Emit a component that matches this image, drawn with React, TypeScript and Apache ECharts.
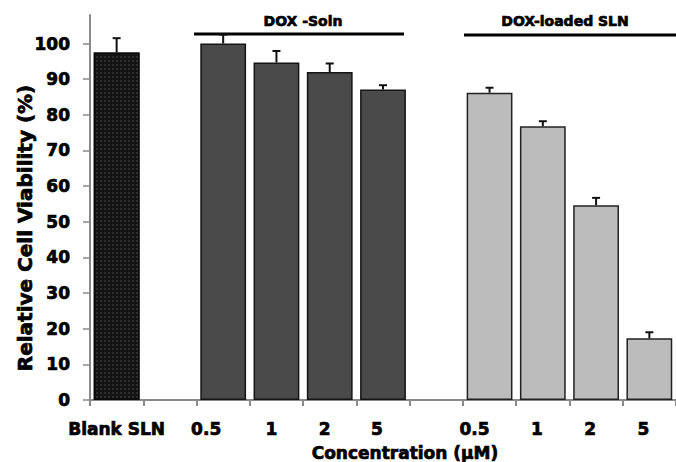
import React, { useEffect, useRef } from 'react';
import * as echarts from 'echarts';

// ---- data ----
const categories = ['Blank SLN', 'gap-1', 'Soln 0.5', 'Soln 1', 'Soln 2', 'Soln 5', 'gap-2', 'SLN 0.5', 'SLN 1', 'SLN 2', 'SLN 5'];
const tickLabels = ['Blank SLN', '', '0.5', '1', '2', '5', '', '0.5', '1', '2', '5'];
const viability: (number | null)[] = [97.5, null, 100, 94.7, 92.0, 87.1, null, 86.2, 76.8, 54.6, 17.3];
const errors: (number | null)[] = [4.0, null, 2.5, 3.2, 2.4, 1.2, null, 1.4, 1.4, 2.1, 1.7];
const groupOf: (string | null)[] = ['blank', null, 'soln', 'soln', 'soln', 'soln', null, 'sln', 'sln', 'sln', 'sln'];
const groupTitles = ['DOX -Soln', 'DOX-loaded SLN'];
const yTicks = [0, 10, 20, 30, 40, 50, 60, 70, 80, 90, 100];
const yMax = 108;
const yTitle = 'Relative Cell Viability (%)';
const xTitle = 'Concentration (\u00B5M)';

// ---- styles ----
const FONT = '"DejaVu Sans", "Liberation Sans", Arial, sans-serif';
const labelShift = [0, 0, -17, -5, -5, -6, 0, -15, -6, -6, -6];
const heavy = { textBorderColor: '#000', textBorderWidth: 0.7 };
const groupStyle: Record<string, any> = {
  blank: {
    color: '#141414',
    borderColor: '#0a0a0a',
    borderWidth: 1.5,
    decal: {
      symbol: 'rect',
      symbolSize: 0.6,
      color: 'rgba(110,110,110,0.9)',
      dashArrayX: [2, 2],
      dashArrayY: [2, 2],
      rotation: 0,
    },
  },
  soln: { color: '#4a4a4a', borderColor: '#151515', borderWidth: 1.5 },
  sln: { color: '#bcbcbc', borderColor: '#222', borderWidth: 1.5 },
};

export default function App() {
  const ref = useRef<HTMLDivElement>(null);

  useEffect(() => {
    if (!ref.current) return;
    const chart = echarts.init(ref.current, undefined, { renderer: 'svg' });

    const barData = viability.map((v, i) => {
      const g = groupOf[i];
      if (v === null || g === null) return null;
      return { value: v, itemStyle: groupStyle[g] };
    });

    const errData = viability
      .map((v, i) => (v === null || errors[i] === null ? null : [i, v, errors[i]]))
      .filter((d) => d !== null);

    const xData = categories.map((c, i) => ({
      value: c,
      textStyle: { padding: [0, labelShift[i] < 0 ? -2 * labelShift[i] : 0, 0, 0] },
    }));

    const textStyle = (size: number) => ({
      fill: '#000',
      font: `bold ${size}px ${FONT}`,
      align: 'center',
      verticalAlign: 'middle',
      stroke: '#000',
      lineWidth: 0.7,
    });

    chart.setOption({
      animation: false,
      grid: { left: 90, right: -4, top: 15, bottom: 62, containLabel: false },
      xAxis: {
        type: 'category',
        data: xData,
        axisLine: { lineStyle: { color: '#8a8a8a', width: 2 } },
        axisTick: { show: true, alignWithLabel: false, length: 6, lineStyle: { color: '#8a8a8a', width: 2 } },
        axisLabel: {
          interval: 0,
          margin: 20,
          color: '#000',
          fontFamily: FONT,
          fontWeight: 'bold',
          fontSize: 17,
          ...heavy,
          formatter: (_v: string, idx: number) => tickLabels[idx],
        },
      },
      yAxis: {
        type: 'value',
        min: 0,
        max: yMax,
        splitLine: { show: false },
        axisLine: { show: true, lineStyle: { color: '#8a8a8a', width: 2 } },
        axisTick: { show: true, length: 7, customValues: yTicks, lineStyle: { color: '#8a8a8a', width: 1.5 } },
        axisLabel: {
          margin: 20,
          color: '#000',
          fontFamily: FONT,
          fontWeight: 'bold',
          fontSize: 17,
          ...heavy,
          customValues: yTicks,
        },
      },
      series: [
        {
          type: 'bar',
          data: barData,
          barCategoryGap: '14%',
          z: 2,
        },
        {
          type: 'custom',
          data: errData,
          z: 3,
          encode: { x: 0, y: 1 },
          renderItem: (_p: any, api: any) => {
            const i = api.value(0);
            const v = api.value(1);
            const e = api.value(2);
            const a = api.coord([i, v]);
            const b = api.coord([i, v + e]);
            const st = { stroke: '#111', lineWidth: 2 };
            return {
              type: 'group',
              children: [
                { type: 'line', shape: { x1: a[0], y1: a[1], x2: b[0], y2: b[1] }, style: st },
                { type: 'line', shape: { x1: b[0] - 4, y1: b[1], x2: b[0] + 4, y2: b[1] }, style: st },
              ],
            };
          },
        },
      ],
      graphic: [
        {
          type: 'text',
          x: 25,
          y: 228,
          rotation: Math.PI / 2,
          style: { text: yTitle, ...textStyle(20) },
        },
        {
          type: 'text',
          x: 405,
          y: 453,
          style: { text: xTitle, ...textStyle(17) },
        },
        {
          type: 'line',
          shape: { x1: 194, y1: 34, x2: 404, y2: 34 },
          style: { stroke: '#000', lineWidth: 3 },
        },
        {
          type: 'text',
          x: 303,
          y: 21,
          style: { text: groupTitles[0], ...textStyle(14) },
        },
        {
          type: 'line',
          shape: { x1: 464, y1: 35, x2: 676, y2: 35 },
          style: { stroke: '#000', lineWidth: 3 },
        },
        {
          type: 'text',
          x: 565,
          y: 21,
          style: { text: groupTitles[1], ...textStyle(14) },
        },
      ],
    });

    return () => chart.dispose();
  }, []);

  return (
    <div
      ref={ref}
      style={{ position: 'fixed', left: 0, top: 0, width: 676, height: 462, background: '#fff' }}
    />
  );
}
